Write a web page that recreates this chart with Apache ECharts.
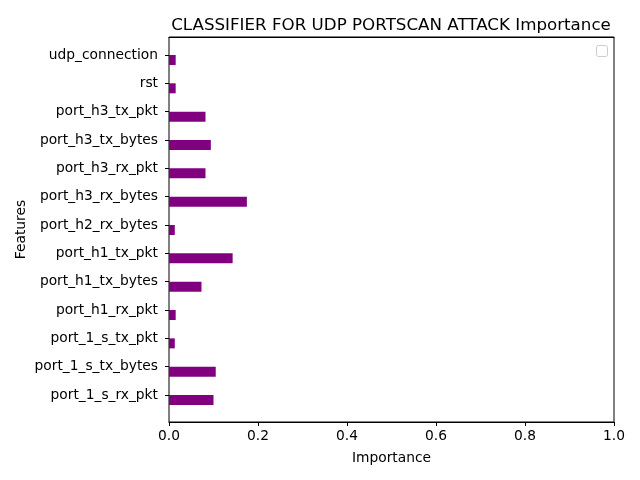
<!DOCTYPE html>
<html>
<head>
<meta charset="utf-8">
<script src="https://cdn.jsdelivr.net/npm/echarts@6/dist/echarts.min.js"></script>
<style>
html, body { margin: 0; padding: 0; background: #fff; }
#main { width: 640px; height: 480px; }
</style>
</head>
<body>
<div id="main"></div>
<script>
// features listed bottom -> top
var features = ['port_1_s_rx_pkt', 'port_1_s_tx_bytes', 'port_1_s_tx_pkt', 'port_h1_rx_pkt',
    'port_h1_tx_bytes', 'port_h1_tx_pkt', 'port_h2_rx_bytes', 'port_h3_rx_bytes',
    'port_h3_rx_pkt', 'port_h3_tx_bytes', 'port_h3_tx_pkt', 'rst', 'udp_connection'];
var importance = [0.100, 0.105, 0.013, 0.015, 0.073, 0.143, 0.013, 0.175,
    0.082, 0.094, 0.082, 0.015, 0.015];

var font = 'DejaVu Sans';
var myChart = echarts.init(document.getElementById('main'));

var option = {
    animation: false,
    textStyle: { fontFamily: font },
    title: {
        text: 'CLASSIFIER FOR UDP PORTSCAN ATTACK Importance',
        left: 386, top: 12, textAlign: 'center',
        textStyle: { fontFamily: font, fontSize: 16.7, fontWeight: 'normal', color: '#000' }
    },
    grid: [
        // bars
        { left: 169, right: 26, top: 40.8, bottom: 70.8 },
        // frame + x axis
        { left: 169, right: 26, top: 37, bottom: 58, show: true, borderColor: '#000', borderWidth: 1 }
    ],
    xAxis: [
        { gridIndex: 0, type: 'value', min: 0, max: 1, show: false },
        {
            gridIndex: 1, type: 'value', min: 0, max: 1, interval: 0.2,
            name: 'Importance', nameLocation: 'middle', nameGap: 29,
            nameTextStyle: { fontFamily: font, fontSize: 13.8, color: '#000' },
            axisLine: { show: true, onZero: false, lineStyle: { color: '#000' } },
            axisTick: { show: true, length: 4, lineStyle: { color: '#000' } },
            splitLine: { show: false },
            axisLabel: {
                color: '#000', fontSize: 13.8, fontFamily: font, margin: 7,
                formatter: function (v) { return v.toFixed(1); },
                showMaxLabel: true, showMinLabel: true
            }
        },
        {
            // top edge of the frame
            gridIndex: 1, type: 'value', min: 0, max: 1, position: 'top',
            axisLine: { show: true, onZero: false, lineStyle: { color: '#000' } },
            axisTick: { show: false }, axisLabel: { show: false }, splitLine: { show: false }
        }
    ],
    yAxis: [
        {
            gridIndex: 0, type: 'category', data: features,
            axisLine: { show: false },
            axisTick: { show: true, alignWithLabel: true, length: 4, lineStyle: { color: '#000' } },
            axisLabel: { color: '#000', fontSize: 13.8, fontFamily: font, margin: 11 }
        },
        {
            gridIndex: 1, type: 'value', min: 0, max: 1,
            name: 'Features', nameLocation: 'middle', nameGap: 141,
            nameTextStyle: { fontFamily: font, fontSize: 13.8, color: '#000' },
            axisLine: { show: false }, axisTick: { show: false },
            axisLabel: { show: false }, splitLine: { show: false }
        }
    ],
    series: [
        {
            type: 'bar', xAxisIndex: 0, yAxisIndex: 0,
            data: features.map(function () { return 0; }), barWidth: 10, barGap: '0%',
            itemStyle: { color: 'rgba(0,0,0,0)' }
        },
        {
            type: 'bar', xAxisIndex: 0, yAxisIndex: 0,
            data: importance, barWidth: 10, barGap: '0%',
            itemStyle: { color: '#800080' }
        }
    ],
    graphic: [
        {
            type: 'rect', left: 596, top: 45,
            shape: { width: 11, height: 11, r: 2 },
            style: { fill: '#fff', stroke: '#cccccc', lineWidth: 1 }
        }
    ]
};

myChart.setOption(option);
window.addEventListener('resize', function () { myChart.resize(); });
</script>
</body>
</html>
